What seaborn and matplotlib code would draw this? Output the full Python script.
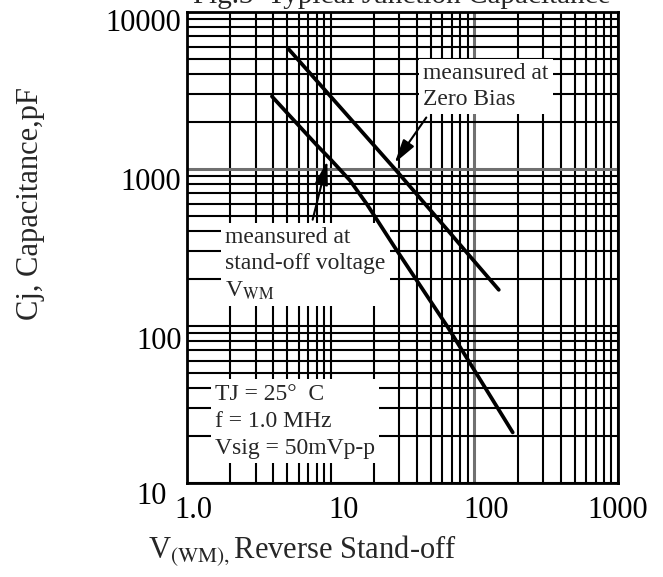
import numpy as np
import pandas as pd
import matplotlib
matplotlib.use("Agg")
import matplotlib.pyplot as plt
import matplotlib.transforms as mtrans
import seaborn as sns

# Data (V in volts, C in pF)
zero_bias_v = [5.1, 12, 28, 65.5, 86, 148]
zero_bias_c = [5800, 2400, 1000, 406, 303, 170]

standoff_v = [3.9, 8, 10, 13.6, 17.8, 28, 65.5, 185]
standoff_c = [2900, 1420, 1150, 847, 600, 316, 98, 21]

x_ticks = [1, 10, 100, 1000]
x_tick_labels = ["1.0", "10", "100", "1000"]
y_ticks = [10, 100, 1000, 10000]
y_tick_labels = ["10", "100", "1000", "10000"]

title_text = "Fig.3  Typical Junction Capacitance"
xlabel_text = r"V$_{\mathrm{(WM),}}$Reverse Stand-off"
ylabel_text = "Cj, Capacitance,pF"
zero_note = "meansured at\nZero Bias"
standoff_note = "meansured at\nstand-off voltage\nV$_{\\mathrm{WM}}$"
cond_note = "TJ = 25\u00b0  C\nf = 1.0 MHz\nVsig = 50mVp-p"

sns.set_theme(style="white")
plt.rcParams["font.family"] = ["Liberation Serif", "DejaVu Serif"]
plt.rcParams["mathtext.fontset"] = "stix"

fig = plt.figure(figsize=(6.63, 5.77), dpi=100)
ax = fig.add_axes([187 / 663, 1 - 483 / 577, (618 - 187) / 663, (483 - 12) / 577])

df_zero = pd.DataFrame({"v": zero_bias_v, "c": zero_bias_c})
df_stand = pd.DataFrame({"v": standoff_v, "c": standoff_c})
sns.lineplot(data=df_zero, x="v", y="c", color="black", lw=2.7, sort=False,
             estimator=None, ax=ax, zorder=5)
sns.lineplot(data=df_stand, x="v", y="c", color="black", lw=2.7, sort=False,
             estimator=None, ax=ax, zorder=5)

ax.set_xscale("log")
ax.set_yscale("log")
ax.set_xlim(1, 1000)
ax.set_ylim(10, 10000)

ax.set_xticks(x_ticks)
ax.set_xticklabels(x_tick_labels)
ax.set_yticks(y_ticks)
ax.set_yticklabels(y_tick_labels)

# dense log grid like the printed graph paper
ax.grid(True, which="both", color="black", lw=1.5)
ax.set_axisbelow(True)
# the 100 V and 1000 pF lines print grey in the scan
ax.get_xgridlines()[2].set_color("#707070")
ax.get_xgridlines()[2].set_linewidth(2.2)
ax.get_ygridlines()[2].set_color("#707070")
ax.get_ygridlines()[2].set_linewidth(2.2)
for s in ax.spines.values():
    s.set_color("black")
    s.set_linewidth(2)

ax.tick_params(axis="both", which="both", length=0, labelsize=22, colors="black")
ax.tick_params(axis="x", pad=9)
ax.tick_params(axis="y", pad=4)
ax.set_xlabel("")
ax.set_ylabel("")

# tick labels are slightly off their grid lines in the original print
ylab_shift = [(-15, -10), (0, -12), (0, -10), (0, -8)]
for lab, (dx, dy) in zip(ax.get_yticklabels(), ylab_shift):
    lab.set_transform(lab.get_transform() +
                      mtrans.ScaledTranslation(dx / 100, dy / 100, fig.dpi_scale_trans))
xlab_shift = [6, 13, 12, 0]
for lab, dx in zip(ax.get_xticklabels(), xlab_shift):
    lab.set_transform(lab.get_transform() +
                      mtrans.ScaledTranslation(dx / 100, 0, fig.dpi_scale_trans))

box = dict(facecolor="white", edgecolor="none", pad=3)
ax.text(43.9, 4750, zero_note, fontsize=17, va="top", ha="left",
        linespacing=1.32, bbox=box, zorder=4)
ax.text(1.84, 425, standoff_note, fontsize=17, va="top", ha="left",
        linespacing=1.3, bbox=box, zorder=4)
ax.text(1.57, 43, cond_note, fontsize=17, va="top", ha="left",
        linespacing=1.38, bbox=box, zorder=4)

arrow = dict(arrowstyle="-|>,head_length=0.8,head_width=0.22", color="black",
             lw=1.5, mutation_scale=18)
ax.annotate("", xy=(27.2, 1057), xytext=(47.5, 2200), arrowprops=arrow, zorder=6)
ax.annotate("", xy=(9.58, 1170), xytext=(7.41, 457), arrowprops=arrow, zorder=6)

fig.text(402 / 663, 1 - 3 / 577, title_text, fontsize=21, ha="center", va="baseline")
fig.text(148 / 663, 1 - 558 / 577, xlabel_text, fontsize=22, ha="left", va="baseline")
fig.text(31 / 663, 1 - 204 / 577, ylabel_text, fontsize=22, ha="center", va="center",
         rotation=90)

fig.savefig("out.png", dpi=100)
